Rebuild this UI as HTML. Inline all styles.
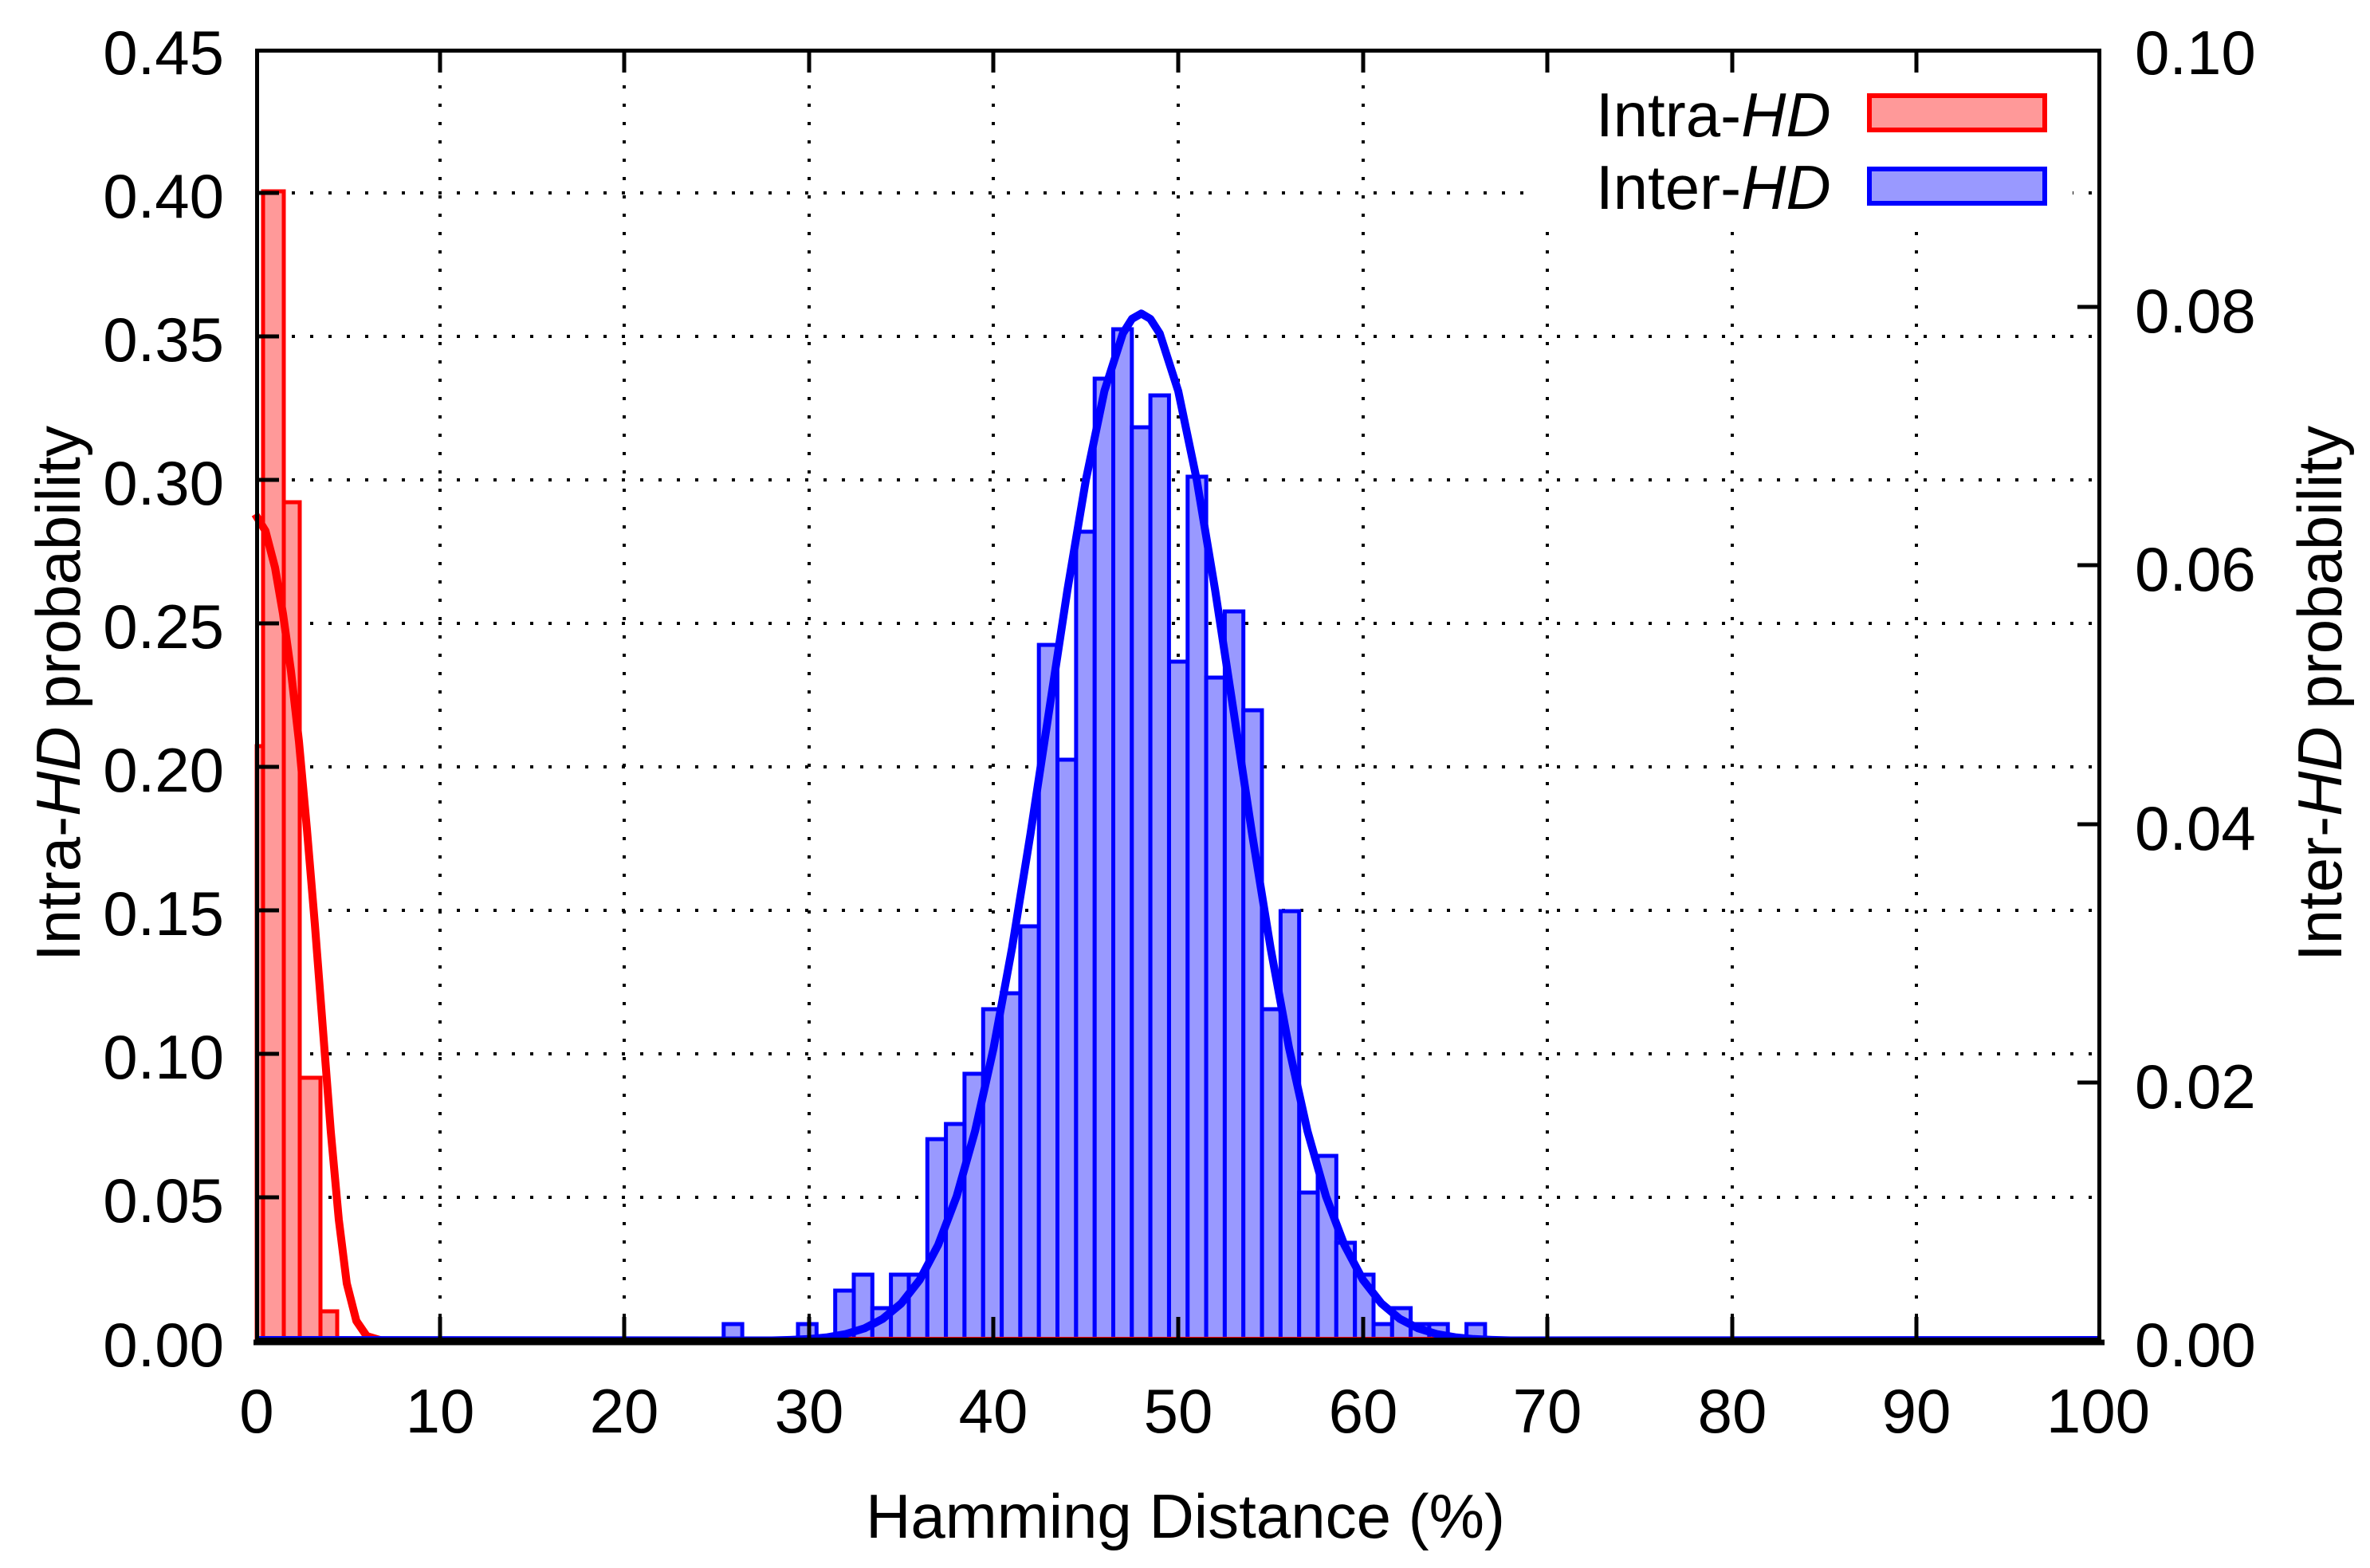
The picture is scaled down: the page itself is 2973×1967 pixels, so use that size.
<!DOCTYPE html>
<html><head><meta charset="utf-8"><style>
html,body{margin:0;padding:0;background:#fff;}
svg{display:block;}
text{font-family:"Liberation Sans",Arial,sans-serif;font-size:78px;fill:#000;}
</style></head><body>
<svg width="2973" height="1967" viewBox="0 0 2973 1967" xmlns="http://www.w3.org/2000/svg">
<rect width="2973" height="1967" fill="#fff"/>
<g stroke="#000" stroke-width="4" stroke-dasharray="4 19" fill="none">
<line x1="552" y1="61" x2="552" y2="1682"/>
<line x1="783" y1="61" x2="783" y2="1682"/>
<line x1="1015" y1="61" x2="1015" y2="1682"/>
<line x1="1246" y1="61" x2="1246" y2="1682"/>
<line x1="1478" y1="61" x2="1478" y2="1682"/>
<line x1="1710" y1="61" x2="1710" y2="1682"/>
<line x1="1941" y1="61" x2="1941" y2="1682"/>
<line x1="2173" y1="61" x2="2173" y2="1682"/>
<line x1="2404" y1="61" x2="2404" y2="1682"/>
<line x1="320" y1="1502" x2="2636" y2="1502"/>
<line x1="320" y1="1322" x2="2636" y2="1322"/>
<line x1="320" y1="1142" x2="2636" y2="1142"/>
<line x1="320" y1="962" x2="2636" y2="962"/>
<line x1="320" y1="782" x2="2636" y2="782"/>
<line x1="320" y1="602" x2="2636" y2="602"/>
<line x1="320" y1="422" x2="2636" y2="422"/>
<line x1="320" y1="242" x2="2636" y2="242"/>
</g>
<rect x="1925" y="66" width="675" height="216" fill="#fff"/>
<g fill="#ff9999" stroke="#ff0000" stroke-width="5">
<rect x="322" y="936" width="8" height="746"/>
<rect x="330" y="240" width="26" height="1442"/>
<rect x="356" y="630" width="20" height="1052"/>
<rect x="376" y="1352" width="26" height="330"/>
<rect x="402" y="1645" width="21" height="37"/>
</g>
<g fill="#9999ff" stroke="#0000ff" stroke-width="5">
<rect x="907.8" y="1661" width="23.3" height="21"/>
<rect x="1001" y="1661" width="23.3" height="21"/>
<rect x="1047.7" y="1619" width="23.3" height="63"/>
<rect x="1071" y="1599" width="23.3" height="83"/>
<rect x="1094.3" y="1641" width="23.3" height="41"/>
<rect x="1117.6" y="1599" width="23.3" height="83"/>
<rect x="1140.0" y="1599" width="23.3" height="83"/>
<rect x="1163.3" y="1429" width="23.3" height="253"/>
<rect x="1186.6" y="1410" width="23.3" height="272"/>
<rect x="1209.9" y="1347" width="23.3" height="335"/>
<rect x="1233.3" y="1266" width="23.3" height="416"/>
<rect x="1256.6" y="1246" width="23.3" height="436"/>
<rect x="1279.9" y="1162" width="23.3" height="520"/>
<rect x="1303.2" y="809" width="23.3" height="873"/>
<rect x="1326.5" y="953" width="23.3" height="729"/>
<rect x="1349.9" y="667" width="23.3" height="1015"/>
<rect x="1373.2" y="475" width="23.3" height="1207"/>
<rect x="1396.5" y="413" width="23.3" height="1269"/>
<rect x="1419.8" y="536" width="23.3" height="1146"/>
<rect x="1443.1" y="496" width="23.3" height="1186"/>
<rect x="1466.5" y="830" width="23.3" height="852"/>
<rect x="1489.8" y="598" width="23.3" height="1084"/>
<rect x="1513.1" y="850" width="23.3" height="832"/>
<rect x="1536.4" y="767" width="23.3" height="915"/>
<rect x="1559.7" y="891" width="23.3" height="791"/>
<rect x="1583.1" y="1266" width="23.3" height="416"/>
<rect x="1606.4" y="1143" width="23.3" height="539"/>
<rect x="1629.7" y="1496" width="23.3" height="186"/>
<rect x="1653.0" y="1450" width="23.3" height="232"/>
<rect x="1676.3" y="1559" width="23.3" height="123"/>
<rect x="1699.7" y="1599" width="23.3" height="83"/>
<rect x="1723.0" y="1661" width="23.3" height="21"/>
<rect x="1746.3" y="1641" width="23.3" height="41"/>
<rect x="1769.6" y="1661" width="23.3" height="21"/>
<rect x="1792.9" y="1661" width="23.3" height="21"/>
<rect x="1839.6" y="1661" width="23.3" height="21"/>
</g>
<polyline fill="none" stroke="#ff0000" stroke-width="10" stroke-linejoin="round"
points="320,645 333,666 345,712 355,770 365,842 375,930 385,1040 395,1160 405,1290 415,1420 425,1530 435,1610 447,1657 460,1676 480,1682 2636,1682"/>
<polyline fill="none" stroke="#0000ff" stroke-width="10" stroke-linejoin="round"
points="320,1681 968.5,1681.5 991.6,1680.9 1014.8,1679.8 1038.0,1677.6 1061.1,1673.5 1084.3,1666.4 1107.4,1654.4 1130.6,1635.1 1153.8,1605.4 1176.9,1561.7 1200.1,1500.6 1223.2,1418.7 1246.4,1314.6 1269.6,1188.9 1292.7,1045.8 1315.9,892.5 1339.0,740.3 1362.2,601.8 1385.4,490.5 1408.5,418.3 1420,400 1431.7,393.3 1443,400 1454.8,418.3 1478.0,490.5 1501.2,601.8 1524.3,740.3 1547.5,892.5 1570.6,1045.8 1593.8,1188.9 1617.0,1314.6 1640.1,1418.7 1663.3,1500.6 1686.4,1561.7 1709.6,1605.4 1732.8,1635.1 1755.9,1654.4 1779.1,1666.4 1802.2,1673.5 1825.4,1677.6 1848.6,1679.8 1871.7,1680.9 1894.9,1681.5 2636,1681"/>
<g stroke="#000" stroke-width="5">
<line x1="552" y1="1682" x2="552" y2="1652"/><line x1="552" y1="61" x2="552" y2="91"/>
<line x1="783" y1="1682" x2="783" y2="1652"/><line x1="783" y1="61" x2="783" y2="91"/>
<line x1="1015" y1="1682" x2="1015" y2="1652"/><line x1="1015" y1="61" x2="1015" y2="91"/>
<line x1="1246" y1="1682" x2="1246" y2="1652"/><line x1="1246" y1="61" x2="1246" y2="91"/>
<line x1="1478" y1="1682" x2="1478" y2="1652"/><line x1="1478" y1="61" x2="1478" y2="91"/>
<line x1="1710" y1="1682" x2="1710" y2="1652"/><line x1="1710" y1="61" x2="1710" y2="91"/>
<line x1="1941" y1="1682" x2="1941" y2="1652"/><line x1="1941" y1="61" x2="1941" y2="91"/>
<line x1="2173" y1="1682" x2="2173" y2="1652"/><line x1="2173" y1="61" x2="2173" y2="91"/>
<line x1="2404" y1="1682" x2="2404" y2="1652"/><line x1="2404" y1="61" x2="2404" y2="91"/>
<line x1="320" y1="1502" x2="350" y2="1502"/>
<line x1="320" y1="1322" x2="350" y2="1322"/>
<line x1="320" y1="1142" x2="350" y2="1142"/>
<line x1="320" y1="962" x2="350" y2="962"/>
<line x1="320" y1="782" x2="350" y2="782"/>
<line x1="320" y1="602" x2="350" y2="602"/>
<line x1="320" y1="422" x2="350" y2="422"/>
<line x1="320" y1="242" x2="350" y2="242"/>
<line x1="2636" y1="1358" x2="2606" y2="1358"/>
<line x1="2636" y1="1034" x2="2606" y2="1034"/>
<line x1="2636" y1="709" x2="2606" y2="709"/>
<line x1="2636" y1="385" x2="2606" y2="385"/>
</g>
<rect x="322.5" y="63.5" width="2311" height="1617" fill="none" stroke="#000" stroke-width="5"/>
<line x1="318" y1="1684" x2="2640" y2="1684" stroke="#000" stroke-width="7"/>
<text x="2002" y="171"><tspan>Intra-</tspan><tspan font-style="italic">HD</tspan></text>
<text x="2002" y="262"><tspan>Inter-</tspan><tspan font-style="italic">HD</tspan></text>
<rect x="2345" y="120" width="220" height="43" fill="#ff9999" stroke="#ff0000" stroke-width="6"/>
<rect x="2345" y="212" width="220" height="43" fill="#9999ff" stroke="#0000ff" stroke-width="6"/>
<g text-anchor="end">
<text x="281" y="93">0.45</text>
<text x="281" y="273">0.40</text>
<text x="281" y="453">0.35</text>
<text x="281" y="633">0.30</text>
<text x="281" y="813">0.25</text>
<text x="281" y="993">0.20</text>
<text x="281" y="1173">0.15</text>
<text x="281" y="1353">0.10</text>
<text x="281" y="1533">0.05</text>
<text x="281" y="1714">0.00</text>
</g>
<g>
<text x="2678" y="93">0.10</text>
<text x="2678" y="417">0.08</text>
<text x="2678" y="741">0.06</text>
<text x="2678" y="1066">0.04</text>
<text x="2678" y="1390">0.02</text>
<text x="2678" y="1714">0.00</text>
</g>
<g text-anchor="middle">
<text x="322" y="1797">0</text>
<text x="552" y="1797">10</text>
<text x="783" y="1797">20</text>
<text x="1015" y="1797">30</text>
<text x="1246" y="1797">40</text>
<text x="1478" y="1797">50</text>
<text x="1710" y="1797">60</text>
<text x="1941" y="1797">70</text>
<text x="2173" y="1797">80</text>
<text x="2404" y="1797">90</text>
<text x="2632" y="1797">100</text>
</g>
<text x="1487" y="1929" text-anchor="middle">Hamming Distance (%)</text>
<text transform="translate(100,870) rotate(-90)" text-anchor="middle"><tspan>Intra-</tspan><tspan font-style="italic">HD</tspan><tspan> probability</tspan></text>
<text transform="translate(2937,870) rotate(-90)" text-anchor="middle"><tspan>Inter-</tspan><tspan font-style="italic">HD</tspan><tspan> probability</tspan></text>
</svg>
</body></html>
